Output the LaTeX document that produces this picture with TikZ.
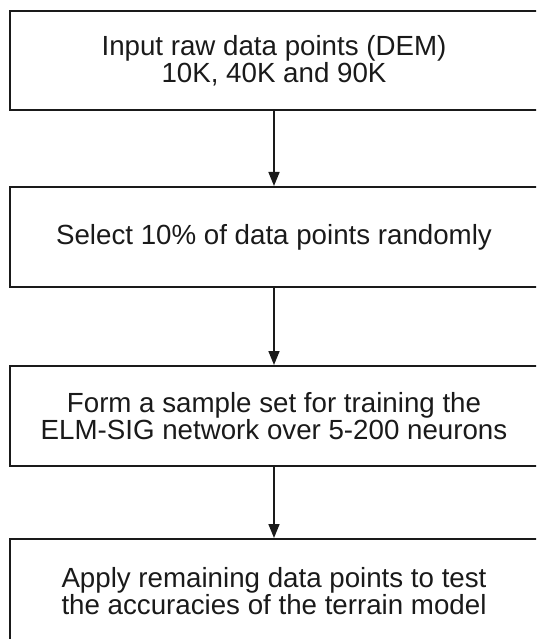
\documentclass[tikz,border=0pt]{standalone}
\usepackage{fontspec}
\setmainfont{Liberation Sans}
\usetikzlibrary{arrows.meta}
\definecolor{ink}{HTML}{1A1A1A}
\tikzset{
  stepbox/.style={draw=ink, line width=2pt, rectangle, inner sep=0pt,
    minimum width=528pt, align=center, text=ink,
    font=\fontsize{27.7pt}{27pt}\selectfont},
  flow/.style={draw=ink, line width=1.6pt,
    -{Triangle[length=14pt, width=11pt]}}
}
\begin{document}
\begin{tikzpicture}[x=1pt, y=1pt]
  \useasboundingbox (0,0) rectangle (536,-639);
  \clip (0,0) rectangle (536,-639);
  \node[stepbox, minimum height=99pt] (s1) at (274,-60.5)
    {Input raw data points (DEM)\\10K, 40K and 90K};
  \node[stepbox, minimum height=100pt] (s2) at (274,-237)
    {Select 10\% of data points randomly};
  \node[stepbox, minimum height=100pt] (s3) at (274,-416)
    {Form a sample set for training the\\ELM-SIG network over 5-200 neurons};
  \node[stepbox, minimum height=104pt] (s4) at (274,-591)
    {Apply remaining data points to test\\the accuracies of the terrain model};
  \draw[flow] (s1.south) -- (s2.north);
  \draw[flow] (s2.south) -- (s3.north);
  \draw[flow] (s3.south) -- (s4.north);
\end{tikzpicture}
\end{document}
